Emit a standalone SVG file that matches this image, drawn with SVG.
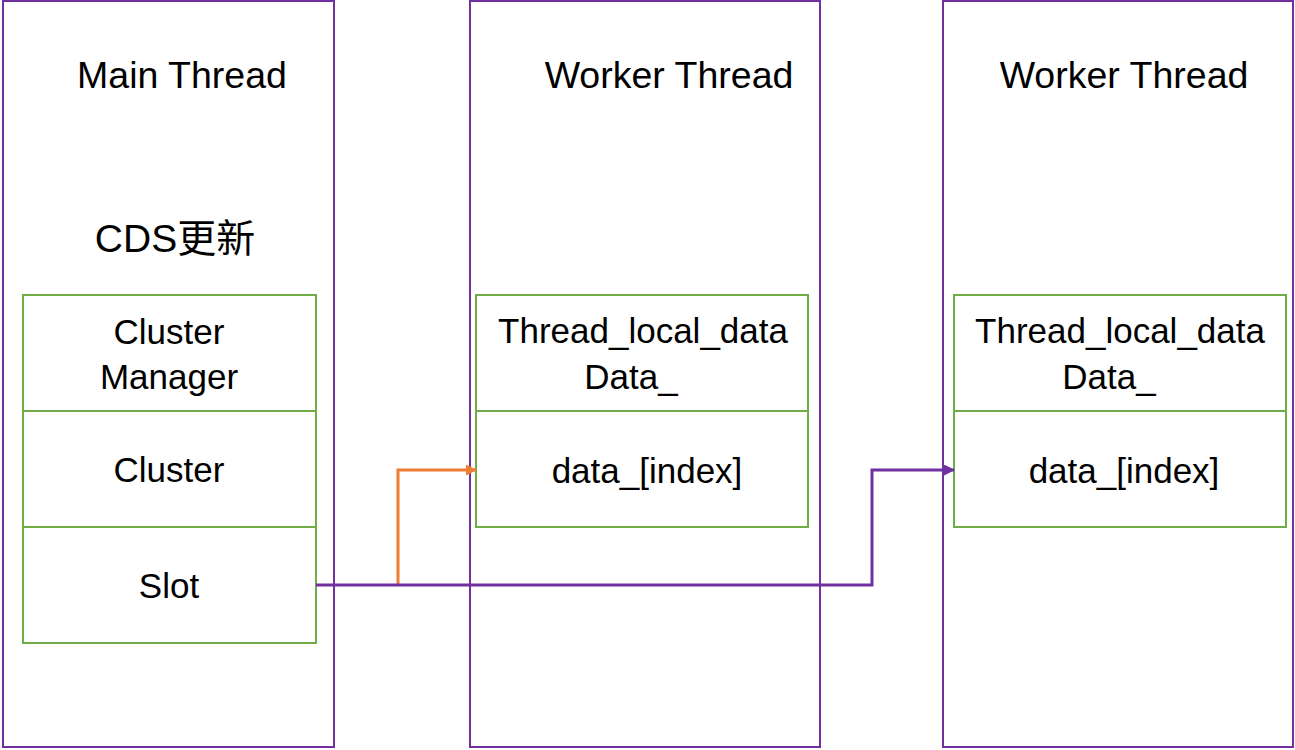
<svg xmlns="http://www.w3.org/2000/svg" width="1295" height="750" viewBox="0 0 1295 750">
<defs>
<style>
.thread{fill:#fff;stroke:#7030A0;stroke-width:2}
.cell{fill:#fff;stroke:#70AD47;stroke-width:2}
.title{font-family:"Liberation Sans",Arial,sans-serif;font-size:37.5px;fill:#000;text-anchor:middle}
.lbl{font-family:"Liberation Sans","Noto Sans CJK SC",sans-serif;font-size:35px;fill:#000;text-anchor:middle}
.conn{fill:none;stroke-width:3}
</style>
<marker id="arrO" markerWidth="11" markerHeight="11" refX="10" refY="5.5" orient="auto" markerUnits="userSpaceOnUse" viewBox="0 0 11 11"><path d="M0,0 L11,5.5 L0,11 z" fill="#ED7D31"/></marker>
<marker id="arrP" markerWidth="11" markerHeight="11" refX="10" refY="5.5" orient="auto" markerUnits="userSpaceOnUse" viewBox="0 0 11 11"><path d="M0,0 L11,5.5 L0,11 z" fill="#7030A0"/></marker>
</defs>
<rect width="1295" height="750" fill="#fff"/>
<g id="main-thread">
<rect class="thread" x="3" y="1" width="331" height="746"/>
<text class="title" x="182" y="88">Main Thread</text>
<text class="title" x="175" y="252" style="font-family:'Liberation Sans','Noto Sans CJK SC',sans-serif;font-size:39px">CDS更新</text>
</g>
<g id="worker-thread-1">
<rect class="thread" x="470" y="1" width="350" height="746"/>
<text class="title" x="669" y="88">Worker Thread</text>
</g>
<g id="worker-thread-2">
<rect class="thread" x="943" y="1" width="350" height="746"/>
<text class="title" x="1124" y="88">Worker Thread</text>
</g>
<g id="cluster-manager">
<rect class="cell" x="23" y="295" width="293" height="116"/>
<text class="lbl" x="169" y="344">Cluster</text>
<text class="lbl" x="169" y="389">Manager</text>
</g>
<g id="cluster">
<rect class="cell" x="23" y="411" width="293" height="116"/>
<text class="lbl" x="169" y="482">Cluster</text>
</g>
<g id="slot">
<rect class="cell" x="23" y="527" width="293" height="116"/>
<text class="lbl" x="169" y="598">Slot</text>
</g>
<g id="tld-1">
<rect class="cell" x="476" y="295" width="332" height="116"/>
<text class="lbl" x="643" y="343">Thread_local_data</text>
<text class="lbl" x="631" y="389">Data_</text>
</g>
<g id="data-index-1">
<rect class="cell" x="476" y="411" width="332" height="116"/>
<text class="lbl" x="647" y="483">data_[index]</text>
</g>
<g id="tld-2">
<rect class="cell" x="954" y="295" width="332" height="116"/>
<text class="lbl" x="1120" y="343">Thread_local_data</text>
<text class="lbl" x="1109" y="389">Data_</text>
</g>
<g id="data-index-2">
<rect class="cell" x="954" y="411" width="332" height="116"/>
<text class="lbl" x="1124" y="483">data_[index]</text>
</g>
<g id="connectors">
<path class="conn" d="M398,585 V470 H476" stroke="#ED7D31" marker-end="url(#arrO)"/>
<path class="conn" d="M316,585 H872 V470 H954" stroke="#7030A0" marker-end="url(#arrP)"/>
</g>
</svg>
